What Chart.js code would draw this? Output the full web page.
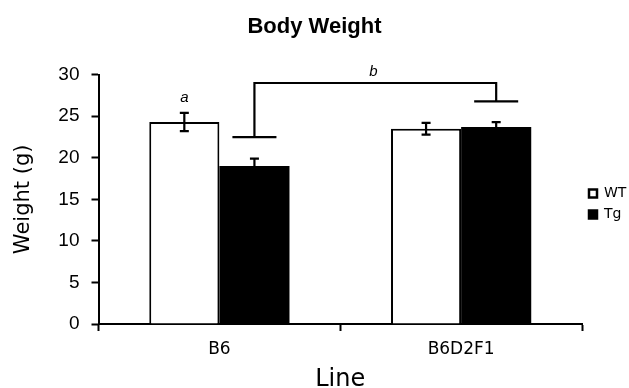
<!DOCTYPE html>
<html>
<head>
<meta charset="utf-8">
<script src="https://cdn.jsdelivr.net/npm/chart.js@4/dist/chart.umd.min.js"></script>
<style>
  html, body { margin: 0; padding: 0; background: #fff; }
  #wrap { width: 629px; height: 388px; }
</style>
</head>
<body>
<div id="wrap"><canvas id="c"></canvas></div>
<script>
// data
const categories = ["B6", "B6D2F1"];
const wtMeans = [24.3, 23.5];
const wtErrors = [1.1, 0.7];
const tgMeans = [19.0, 23.7];
const tgErrors = [0.9, 0.6];
const yTickValues = [0, 5, 10, 15, 20, 25, 30];

// significance marks
const letterA = { text: "a", category: 0, value: 27.2 };
const bracketTop = 29;
const bracketEnds = [22.5, 26.8]; // left / right foot heights on the Tg bars
const bracketLabel = "b";

// error bars + bracket + letters
const annotations = {
  id: "annotations",
  afterDatasetsDraw(chart) {
    const ctx = chart.ctx;
    const y = chart.scales.y;
    const errs = [wtErrors, tgErrors];
    const means = [wtMeans, tgMeans];
    ctx.save();
    ctx.strokeStyle = "#000";
    ctx.lineWidth = 2.2;
    ctx.lineCap = "butt";
    chart.data.datasets.forEach((ds, di) => {
      chart.getDatasetMeta(di).data.forEach((bar, i) => {
        const top = y.getPixelForValue(means[di][i] + errs[di][i]);
        const bot = y.getPixelForValue(means[di][i] - errs[di][i]);
        ctx.beginPath();
        ctx.moveTo(bar.x, top);
        ctx.lineTo(bar.x, bot);
        ctx.moveTo(bar.x - 4.5, top);
        ctx.lineTo(bar.x + 4.5, top);
        ctx.moveTo(bar.x - 4.5, bot);
        ctx.lineTo(bar.x + 4.5, bot);
        ctx.stroke();
      });
    });

    // bracket between the two Tg bars
    const tgBars = chart.getDatasetMeta(1).data;
    const half = tgBars[0].width * 0.314;
    const yt = y.getPixelForValue(bracketTop);
    const y0 = y.getPixelForValue(bracketEnds[0]);
    const y1 = y.getPixelForValue(bracketEnds[1]);
    ctx.beginPath();
    ctx.moveTo(tgBars[0].x, y0);
    ctx.lineTo(tgBars[0].x, yt);
    ctx.lineTo(tgBars[1].x, yt);
    ctx.lineTo(tgBars[1].x, y1);
    ctx.moveTo(tgBars[0].x - half, y0);
    ctx.lineTo(tgBars[0].x + half, y0);
    ctx.moveTo(tgBars[1].x - half, y1);
    ctx.lineTo(tgBars[1].x + half, y1);
    ctx.stroke();

    ctx.fillStyle = "#000";
    ctx.font = "italic 15px 'Liberation Sans', Arial, sans-serif";
    ctx.textAlign = "center";
    ctx.textBaseline = "bottom";
    ctx.fillText(bracketLabel, (tgBars[0].x + tgBars[1].x) / 2 - 2, yt - 4);
    const wtBar = chart.getDatasetMeta(0).data[letterA.category];
    ctx.textBaseline = "middle";
    ctx.fillText(letterA.text, wtBar.x, y.getPixelForValue(letterA.value));
    ctx.restore();
  }
};

new Chart(document.getElementById("c"), {
  type: "bar",
  data: {
    labels: categories,
    datasets: [
      {
        label: "WT",
        data: wtMeans,
        backgroundColor: "#fff",
        borderColor: "#000",
        borderWidth: 2,
        categoryPercentage: 0.58,
        barPercentage: 1.0,
      },
      {
        label: "Tg",
        data: tgMeans,
        backgroundColor: "#000",
        borderColor: "#000",
        borderWidth: 0,
        categoryPercentage: 0.58,
        barPercentage: 1.0,
      },
    ],
  },
  options: {
    responsive: true,
    maintainAspectRatio: false,
    animation: false,
    layout: { padding: 0 },
    plugins: {
      title: {
        display: true,
        text: "Body Weight",
        color: "#000",
        font: { family: "'Liberation Sans', Arial, sans-serif", size: 22, weight: "bold" },
        padding: { top: 14, bottom: 34.3 },
      },
      legend: {
        position: "right",
        align: "center",
        maxWidth: 47,
        // empty title only pushes the items down a little
        title: { display: true, text: "", padding: 0, font: { size: 20, lineHeight: 1 } },
        labels: {
          color: "#000",
          boxWidth: 8,
          boxHeight: 8,
          padding: 7,
          font: { family: "'DejaVu Sans', sans-serif", size: 14 },
          generateLabels: (chart) =>
            chart.data.datasets.map((ds, i) => ({
              text: ds.label,
              fillStyle: ds.backgroundColor,
              strokeStyle: "#000",
              lineWidth: 2.5,
              fontColor: "#000",
              datasetIndex: i,
            })),
        },
      },
      tooltip: { enabled: false },
    },
    scales: {
      x: {
        afterFit: (scale) => { scale.height = 64; },
        grid: {
          display: true,
          drawOnChartArea: false,
          offset: true,
          tickLength: 7,
          tickColor: "#000",
          tickWidth: 2,
        },
        border: { color: "#000", width: 2 },
        ticks: {
          color: "#000",
          padding: 8,
          font: { family: "'DejaVu Sans', sans-serif", size: 17 },
        },
        title: {
          display: true,
          text: "Line",
          color: "#000",
          padding: { top: 7, bottom: -4 },
          font: { family: "'DejaVu Sans', sans-serif", size: 24, lineHeight: 1 },
        },
      },
      y: {
        min: 0,
        max: 30,
        afterFit: (scale) => { scale.width = 98.5; },
        afterBuildTicks: (axis) => {
          axis.ticks = yTickValues.map((v) => ({ value: v }));
        },
        grid: {
          display: true,
          drawOnChartArea: false,
          tickLength: 7,
          tickColor: "#000",
          tickWidth: 2,
        },
        border: { color: "#000", width: 2 },
        ticks: {
          color: "#000",
          padding: 12,
          font: { family: "'Liberation Sans', Arial, sans-serif", size: 19 },
        },
        title: {
          display: true,
          text: "Weight (g)",
          color: "#000",
          padding: { top: 13.5, bottom: 24 },
          font: { family: "'DejaVu Sans', sans-serif", size: 21, lineHeight: 1 },
        },
      },
    },
  },
  plugins: [annotations],
});
</script>
</body>
</html>
